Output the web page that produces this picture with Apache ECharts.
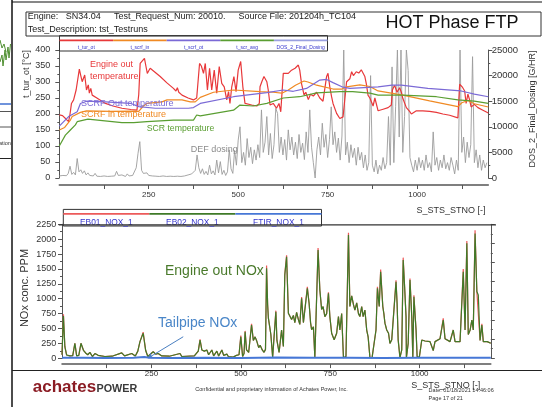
<!DOCTYPE html>
<html>
<head>
<meta charset="utf-8">
<script src="https://cdn.jsdelivr.net/npm/echarts@6/dist/echarts.min.js"></script>
<style>
  html, body { margin: 0; padding: 0; background: #ffffff; }
  #chart { width: 542px; height: 407px; }
</style>
</head>
<body>
<div id="chart"></div>
<script>
// ---- axis ticks ----
const stnoTicks = [125, 250, 375, 500, 625, 750, 875, 1000, 1125];
const stnoLabels = [250, 500, 750, 1000];

// ---- upper plot: temperatures [S_STS_STNO, degC] ----
const tTurOt = [[0,197],[9,195],[18,185],[26,176],[30,200],[34,233],[40,244],[47,275],[56,340],[60,320],[64,301],[71,322],[76,275],[81,291],[84,265],[88,280],[92,259],[105,250],[129,233],[150,225],[175,218],[200,214],[217,212],[222,260],[226,358],[232,366],[238,374],[242,350],[246,327],[250,335],[254,343],[265,333],[282,317],[300,298],[319,280],[326,272],[330,282],[334,268],[343,259],[360,250],[375,244],[384,250],[392,358],[397,350],[403,327],[408,358],[414,275],[420,343],[426,275],[433,337],[440,265],[447,348],[454,296],[461,285],[468,244],[473,270],[477,233],[482,285],[488,317],[494,270],[500,337],[507,364],[513,285],[519,233],[524,228],[538,228],[552,225],[559,233],[561,285],[566,301],[572,317],[580,301],[584,275],[589,228],[598,233],[607,218],[614,233],[619,207],[626,327],[631,332],[640,327],[649,337],[659,343],[668,353],[672,337],[677,295],[684,260],[689,268],[696,245],[702,262],[710,256],[719,268],[728,250],[737,240],[747,317],[751,327],[756,285],[761,254],[765,233],[775,202],[784,186],[793,191],[803,301],[812,310],[817,332],[822,320],[830,332],[837,328],[844,338],[854,317],[858,295],[863,258],[868,250],[877,225],[882,250],[886,255],[891,210],[896,212],[905,215],[919,220],[928,228],[931,275],[937,290],[944,268],[951,282],[956,268],[960,249],[970,220],[979,208],[984,200],[998,210],[1016,210],[1035,208],[1054,205],[1072,200],[1091,196],[1114,188],[1119,293],[1126,285],[1133,272],[1137,233],[1142,262],[1146,247],[1151,222],[1160,230],[1170,220],[1184,212],[1199,203]];
const tScrfIn = [[0,150],[15,158],[31,181],[36,192],[59,205],[76,210],[143,208],[208,209],[222,208],[235,225],[245,233],[287,238],[301,244],[343,244],[366,238],[380,238],[394,252],[431,268],[487,275],[561,270],[598,268],[622,265],[640,275],[660,290],[684,303],[695,300],[719,290],[765,278],[790,278],[803,285],[840,291],[868,286],[891,272],[960,259],[1035,241],[1114,223],[1125,235],[1142,242],[1160,232],[1199,222]];
const tScrfOt = [[0,162],[26,192],[50,207],[59,233],[64,238],[76,240],[129,238],[200,233],[222,223],[268,218],[361,218],[375,220],[394,233],[398,238],[487,254],[580,267],[626,275],[654,271],[691,280],[728,306],[747,308],[765,298],[790,285],[812,280],[891,285],[930,290],[956,290],[1030,280],[1123,272],[1160,262],[1199,254]];
const tScrAvg = [[0,100],[17,134],[31,150],[45,166],[50,176],[80,184],[175,173],[208,173],[245,176],[319,181],[375,181],[384,197],[394,194],[487,212],[505,228],[542,225],[580,233],[626,250],[672,254],[719,266],[784,270],[820,270],[868,265],[891,259],[960,259],[1054,254],[1114,244],[1160,240],[1199,233]];

// ---- upper plot: DEF dosing [G/HR], one value every 5 steps from 0 ----
const dosingStep = 5;
const dosFinal = [400,350,500,300,450,900,2300,700,1100,600,3800,1200,1600,900,1400,600,1000,500,800,400,
  900,350,600,300,500,400,700,300,450,350,500,400,1300,500,350,600,400,300,800,400,
  350,500,700,2000,4800,7100,1500,900,600,1000,500,800,400,600,350,500,300,450,400,600,
  300,500,350,400,300,600,350,450,300,500,400,350,600,400,800,500,1500,4500,2000,900,
  1800,700,1300,600,2500,800,1400,600,3500,1000,3200,700,1500,500,1200,5500,1800,900,5400,2500,
  7400,10000,3000,5000,2500,7700,4000,6000,2800,5500,3500,6500,4000,13300,5000,7000,12000,4500,8700,3800,
  6500,13600,12600,5000,8000,4500,7500,3500,9400,5500,8000,4500,7000,3800,8500,5000,6800,3600,9000,5000,
  13300,6000,3000,0,5500,8000,4500,10700,6000,8500,4000,7500,13900,6500,9000,5000,7800,3500,8200,25000,
  4500,7000,3000,6500,4000,5800,2500,6000,3500,5000,2000,4500,1500,3000,20000,2500,1200,3500,800,2500,
  1500,4000,1800,3000,12000,2500,21700,3000,14000,25000,8000,25000,5000,12000,25000,21000,4000,2500,1200,3500,
  1500,4000,2000,3500,1500,4500,2000,3000,1200,9000,2500,4000,1500,3500,2000,4500,1800,3000,1500,4000,
  2500,800,3500,1500,25000,5000,8000,3000,7000,4000,6500,23700,3000,5500,2000,4500,1500,3500,2000,3000];

// ---- lower plot: NOx [S_STS_STNO, ppm] ----
const eb01Nox = [[0,60],[4,740],[8,195],[13,55],[22,40],[30,45],[36,252],[41,40],[47,50],[53,252],[60,134],[66,90],[72,60],[78,100],[85,30],[92,80],[101,50],[110,40],[120,30],[140,35],[167,90],[175,40],[195,80],[205,40],[212,120],[218,280],[227,440],[234,130],[240,30],[255,110],[262,70],[269,80],[279,40],[300,35],[330,80],[335,30],[370,40],[381,120],[386,320],[391,140],[398,120],[405,140],[410,60],[414,60],[419,140],[424,40],[428,30],[433,120],[438,40],[442,30],[447,140],[452,50],[456,60],[461,70],[465,30],[479,20],[488,50],[495,60],[500,380],[505,30],[509,80],[512,460],[516,140],[522,100],[530,580],[535,300],[540,360],[544,300],[550,180],[554,220],[560,140],[565,100],[569,150],[572,1560],[575,900],[577,680],[582,671],[584,400],[589,20],[592,20],[598,800],[601,300],[607,100],[614,475],[619,200],[623,1420],[628,1730],[633,755],[637,780],[642,650],[647,720],[651,600],[656,770],[661,650],[665,570],[670,1030],[675,600],[679,570],[686,1200],[691,920],[695,600],[698,480],[703,530],[707,20],[711,15],[716,1850],[721,1146],[726,820],[730,870],[735,700],[740,750],[745,1110],[749,700],[754,420],[761,310],[768,420],[773,700],[777,475],[782,750],[787,10],[794,30],[801,2110],[805,870],[810,1050],[815,900],[819,810],[824,930],[829,750],[833,700],[838,870],[842,700],[847,810],[852,475],[856,360],[861,15],[867,10],[872,30],[878,475],[882,1200],[887,870],[891,1490],[897,870],[900,750],[903,590],[908,475],[913,420],[917,250],[922,310],[926,280],[934,1310],[937,920],[940,310],[945,10],[950,140],[954,1690],[958,1201],[962,700],[963,10],[968,250],[973,1340],[978,700],[981,10],[984,1060],[990,475],[993,30],[999,10],[1006,307],[1015,290],[1029,280],[1038,130],[1043,280],[1057,330],[1066,670],[1071,330],[1085,280],[1094,475],[1099,280],[1113,280],[1122,1500],[1127,475],[1132,1970],[1136,400],[1141,470],[1146,643],[1150,475],[1155,2150],[1160,1120],[1164,1090],[1169,300],[1174,580],[1178,280],[1189,280],[1199,252]];
const eb02Nox = [[0,60],[4,710],[8,195],[13,55],[22,40],[30,45],[36,252],[41,40],[47,50],[53,252],[60,134],[66,90],[72,60],[78,100],[85,30],[92,80],[101,50],[110,40],[120,30],[140,35],[167,90],[175,40],[195,80],[205,40],[212,120],[218,280],[227,420],[234,130],[240,30],[255,110],[262,70],[269,80],[279,40],[300,35],[330,80],[335,30],[370,40],[381,120],[386,307],[391,140],[398,120],[405,140],[410,60],[414,60],[419,140],[424,40],[428,30],[433,120],[438,40],[442,30],[447,140],[452,50],[456,60],[461,70],[465,30],[479,20],[488,50],[495,60],[500,362],[505,30],[509,80],[512,447],[516,140],[522,100],[530,559],[535,300],[540,360],[544,300],[550,180],[554,220],[560,140],[565,100],[569,150],[572,1510],[575,900],[577,680],[582,671],[584,400],[589,20],[592,20],[598,782],[601,300],[607,100],[614,475],[619,200],[623,1397],[628,1705],[633,755],[637,780],[642,650],[647,720],[651,600],[656,770],[661,650],[665,570],[670,1007],[675,600],[679,570],[686,1175],[691,920],[695,600],[698,480],[703,530],[707,20],[711,15],[716,1817],[721,1146],[726,820],[730,870],[735,700],[740,750],[745,1090],[749,700],[754,420],[761,310],[768,420],[773,700],[777,475],[782,750],[787,10],[794,30],[801,2069],[805,870],[810,1050],[815,900],[819,810],[824,930],[829,750],[833,700],[838,870],[842,700],[847,810],[852,475],[856,360],[861,15],[867,10],[872,30],[878,475],[882,1175],[887,870],[891,1453],[897,870],[900,750],[903,590],[908,475],[913,420],[917,250],[922,310],[926,280],[934,1285],[937,920],[940,310],[945,10],[950,140],[954,1649],[958,1201],[962,700],[963,10],[968,250],[973,1314],[978,700],[981,10],[984,1034],[990,475],[993,30],[999,10],[1006,307],[1015,290],[1029,280],[1038,130],[1043,280],[1057,330],[1066,643],[1071,330],[1085,280],[1094,475],[1099,280],[1113,280],[1122,1453],[1127,475],[1132,1930],[1136,400],[1141,470],[1146,643],[1150,475],[1155,2097],[1160,1120],[1164,1062],[1169,300],[1174,559],[1178,280],[1189,280],[1199,252]];
const ftirNox = [[0,8],[60,10],[120,6],[200,8],[230,22],[245,8],[300,6],[400,10],[500,6],[600,12],[700,8],[800,10],[900,6],[1000,8],[1100,10],[1199,8]];

// ---- styling ----
const FONT = '"Liberation Sans", Arial, Helvetica, sans-serif';
const C = {
  tur: '#e8383a', scrfIn: '#f08a24', scrfOt: '#7b6ad6', scr: '#5a9e32', dos: '#9c9c9c',
  eb01: '#ec5a5a', eb02: '#3f7a28', ftir: '#4677d6', legendText: '#3535cc', axis: '#555'
};

const dosPairs = dosFinal.map((d, i) => [i * dosingStep, d]);
const plainNumber = v => String(v);

function txt(text, x, y, size, color, opts) {
  opts = opts || {};
  return {
    type: 'text', x: x, y: y, rotation: opts.rotation || 0, z: 100,
    style: {
      text: text, fill: color,
      font: (opts.weight ? opts.weight + ' ' : '') + size + 'px ' + FONT,
      textAlign: opts.align || 'left', align: opts.align || 'left',
      textVerticalAlign: 'middle', verticalAlign: 'middle'
    }
  };
}
function ln(x1, y1, x2, y2, color, w) {
  return { type: 'line', z: 100, shape: { x1: x1, y1: y1, x2: x2, y2: y2 }, style: { stroke: color, lineWidth: w } };
}
function poly(points, color, w) {
  return { type: 'polyline', z: 100, shape: { points: points }, style: { stroke: color, lineWidth: w, fill: 'none' } };
}
function box(x, y, w, h) {
  return { type: 'rect', z: 100, shape: { x: x, y: y, width: w, height: h }, style: { fill: 'none', stroke: '#333', lineWidth: 1 } };
}

function xAxisCfg(grid, offset) {
  return {
    type: 'value', gridIndex: grid, min: 0, max: 1199, offset: offset,
    axisLine: { show: true, onZero: false, lineStyle: { color: C.axis, width: 1.5 } },
    axisTick: { show: true, length: 4, customValues: stnoTicks, lineStyle: { color: C.axis } },
    axisLabel: { customValues: stnoLabels, formatter: plainNumber, fontSize: 8, color: '#333', margin: 6, fontFamily: FONT },
    splitLine: { show: false }
  };
}
function yAxisCfg(grid, pos, min, max, interval, labelSize, margin, showLabel) {
  return {
    type: 'value', gridIndex: grid, position: pos, min: min, max: max, interval: interval,
    axisLine: { show: true, lineStyle: { color: C.axis, width: 1 } },
    axisTick: { show: true, length: 4, lineStyle: { color: C.axis } },
    minorTick: { show: true, splitNumber: 2, length: 2, lineStyle: { color: C.axis } },
    axisLabel: { show: showLabel, formatter: plainNumber, fontSize: labelSize, color: '#333', margin: margin, fontFamily: FONT },
    splitLine: { show: false }
  };
}

function lineSeries(name, data, color, xi, yi, width, z) {
  return {
    name: name, type: 'line', data: data, xAxisIndex: xi, yAxisIndex: yi,
    showSymbol: false, symbol: 'none', z: z,
    lineStyle: { color: color, width: width }, itemStyle: { color: color }
  };
}

// legend strips (upper and lower)
const upperLegend = [['t_tur_ot', C.tur], ['t_scrf_in', C.scrfIn], ['t_scrf_ot', C.scrfOt], ['t_scr_avg', C.scr], ['DOS_2_Final_Dosing', '#9aa0e0']];
const lowerLegend = [['EB01_NOX_1', C.eb01], ['EB02_NOX_1', C.eb02], ['FTIR_NOX_1', C.ftir]];

const graphics = [];
// page frame and the edge of the neighbouring page
graphics.push(ln(12, 0, 12, 407, '#111', 1.5));
graphics.push(ln(12, 2, 542, 2, '#111', 1.2));
graphics.push(ln(12, 370.5, 542, 370.5, '#222', 1));
graphics.push(poly([[0, 62], [2, 55], [3, 66], [5, 50], [6, 60], [8, 47], [9, 58], [10.5, 44]], '#4f8f30', 1));
graphics.push(poly([[0, 40], [2, 48], [4, 44], [6, 52]], '#4f8f30', 1));
graphics.push(ln(0, 104, 11, 104, '#3f6fd0', 1.5));
graphics.push(ln(0, 111.5, 11, 111.5, '#555', 1));
graphics.push(ln(0, 127, 11, 127, '#555', 1));
graphics.push(txt('ation', -1, 143.3, 5.5, '#333'));
graphics.push(ln(0, 158.5, 11, 158.5, '#222', 1));
// header
graphics.push(box(26, 12, 515, 24));
graphics.push(txt('Engine:', 27.7, 17, 9, '#222'));
graphics.push(txt('SN34.04', 65.7, 17, 9, '#222'));
graphics.push(txt('Test_Request_Num: 20010.', 114, 17, 9, '#222'));
graphics.push(txt('Source File: 201204h_TC104', 238.5, 17, 9, '#222'));
graphics.push(txt('Test_Description: tst_Testruns', 27.7, 29.5, 9, '#222'));
graphics.push(txt('HOT Phase FTP', 385.4, 23.5, 18, '#111'));

// upper legend
(function () {
  const x0 = 59.5, y0 = 35.6, w = 268, h = 15.4, cw = w / upperLegend.length;
  graphics.push(box(x0, y0, w, h));
  upperLegend.forEach((it, i) => {
    graphics.push(ln(x0 + i * cw, y0 + 4.8, x0 + (i + 1) * cw, y0 + 4.8, it[1], 1.6));
    graphics.push(txt(it[0], x0 + (i + 0.5) * cw, y0 + 12, 5, C.legendText, { align: 'center' }));
  });
})();
// lower legend
(function () {
  const x0 = 63.3, y0 = 209.4, w = 258.2, h = 16.6, cw = w / lowerLegend.length;
  graphics.push(box(x0, y0, w, h));
  lowerLegend.forEach((it, i) => {
    graphics.push(ln(x0 + i * cw, y0 + 4.5, x0 + (i + 1) * cw, y0 + 4.5, it[1], 1.6));
    graphics.push(txt(it[0], x0 + (i + 0.5) * cw, y0 + 12.8, 8.4, C.legendText, { align: 'center' }));
  });
})();

// axis titles
graphics.push(txt('t_tur_ot [°C]', 27, 74, 9, '#333', { align: 'center', rotation: Math.PI / 2 }));
graphics.push(txt('DOS_2_Final_Dosing [G/HR]', 533, 109, 9, '#333', { align: 'center', rotation: Math.PI / 2 }));
graphics.push(txt('S_STS_STNO [-]', 416.5, 210.4, 9, '#333'));
graphics.push(txt('NOx conc. PPM', 25, 288, 11, '#333', { align: 'center', rotation: Math.PI / 2 }));
graphics.push(txt('S_STS_STNO [-]', 411.3, 386, 9, '#333'));
// lower plot top frame
graphics.push(ln(58.8, 224.8, 496, 224.8, '#333', 1.2));

// upper plot annotations
graphics.push(txt('Engine out', 90, 65, 9, C.tur));
graphics.push(txt('temperature', 90, 76.7, 9, C.tur));
graphics.push(txt('SCRF Out temperature', 81, 104, 9, C.scrfOt));
graphics.push(txt('SCRF in temperature', 81, 115, 9, C.scrfIn));
graphics.push(txt('SCR temperature', 146.7, 128.3, 8.7, C.scr));
graphics.push(txt('DEF dosing', 190.7, 150, 9, '#8c8c8c'));
// lower plot annotations
graphics.push(txt('Engine out NOx', 165, 270.7, 14, '#4a7a2c'));
graphics.push(txt('Tailpipe NOx', 158, 323.3, 14, '#4a86c8'));

// footer
graphics.push(txt('achates', 32.8, 387.5, 17, '#8b1c24', { weight: 'bold' }));
graphics.push(txt('POWER', 96.5, 389.5, 10.8, '#3a3a3a', { weight: 'bold' }));
graphics.push(txt('Confidential and proprietary information of Achates Power, Inc.', 195.3, 389.4, 5.5, '#333'));
graphics.push(txt('Date: 01/18/2021 14:46:06', 428.6, 390.4, 5.5, '#333'));
graphics.push(txt('Page 17 of 21', 428.6, 398, 5.5, '#333'));

const ftirSeries = lineSeries('FTIR_NOX_1', ftirNox, C.ftir, 1, 2, 2, 5);
ftirSeries.markLine = {
  silent: true, symbol: ['none', 'arrow'], symbolSize: 5, animation: false,
  label: { show: false },
  lineStyle: { color: '#4a7fc1', width: 1, type: 'solid' },
  data: [[{ coord: [339, 362] }, { coord: [241, 5] }]]
};

const option = {
  animation: false,
  backgroundColor: '#ffffff',
  textStyle: { fontFamily: FONT },
  grid: [
    { left: 59.3, top: 50, width: 429, height: 128, containLabel: false },
    { left: 62, top: 224.3, width: 428.8, height: 134, containLabel: false }
  ],
  xAxis: [xAxisCfg(0, 7), xAxisCfg(1, 5.8)],
  yAxis: [
    yAxisCfg(0, 'left', 0, 400, 50, 9, 9, true),
    yAxisCfg(0, 'right', 0, 25000, 5000, 9.5, 3.4, true),
    yAxisCfg(1, 'left', 0, 2250, 250, 9, 5.7, true),
    yAxisCfg(1, 'right', 0, 7, 1, 9, 4, false)
  ],
  series: [
    lineSeries('DOS_2_Final_Dosing', dosPairs, C.dos, 0, 1, 0.9, 2),
    lineSeries('t_tur_ot', tTurOt, C.tur, 0, 0, 1.2, 3),
    lineSeries('t_scrf_in', tScrfIn, C.scrfIn, 0, 0, 1.2, 3),
    lineSeries('t_scrf_ot', tScrfOt, C.scrfOt, 0, 0, 1.2, 3),
    lineSeries('t_scr_avg', tScrAvg, C.scr, 0, 0, 1.2, 3),
    lineSeries('EB01_NOX_1', eb01Nox, C.eb01, 1, 2, 1.2, 3),
    lineSeries('EB02_NOX_1', eb02Nox, C.eb02, 1, 2, 1.2, 4),
    ftirSeries
  ],
  graphic: graphics
};

const chart = echarts.init(document.getElementById('chart'), null, { renderer: 'canvas' });
chart.setOption(option);
</script>
</body>
</html>
